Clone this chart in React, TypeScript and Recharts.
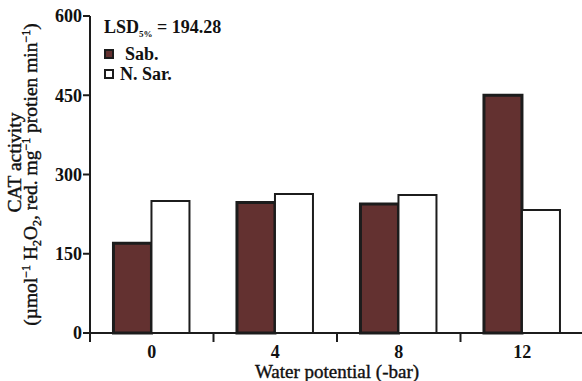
import React from 'react';
import { BarChart, Bar, XAxis, YAxis, Legend } from 'recharts';

const categories = ['0', '4', '8', '12'];
const sabValues = [170, 247, 244, 450];
const nSarValues = [250, 263, 261, 233];
const yTicks = [0, 150, 300, 450, 600];
const seriesNames = ['Sab.', 'N. Sar.'];
const lsdValue = '194.28';

const data = categories.map((c, i) => ({ potential: c, sab: sabValues[i], nsar: nSarValues[i] }));

const FONT = '"Liberation Serif", "Times New Roman", serif';
const INK = '#1c1c1c';
const MAROON = '#633130';

// category boundary ticks + centred labels
const XTick = (props: any) => {
  const { x, y, payload, index, visibleTicksCount } = props;
  const half = payload?.offset ?? 0;
  const top = y - 12;
  return (
    <g>
      <line x1={x - half} x2={x - half} y1={top} y2={top + 9} stroke={INK} strokeWidth={2} />
      {index === visibleTicksCount - 1 && (
        <line x1={x + half} x2={x + half} y1={top} y2={top + 9} stroke={INK} strokeWidth={2} />
      )}
      <text x={x} y={y} dy="0.71em" textAnchor="middle" fill="#111" fontFamily={FONT} fontWeight="bold" fontSize={18}>
        {payload.value}
      </text>
    </g>
  );
};

const YTitle = (props: any) => {
  const { viewBox } = props;
  const cy = viewBox.y + viewBox.height / 2;
  const sup = { fontSize: 12 };
  return (
    <g fontFamily={FONT} fontSize={19.5} fill="#111" stroke="#111" strokeWidth={0.4}>
      <text x={21} y={cy - 12} transform={`rotate(-90 21 ${cy - 12})`} textAnchor="middle">
        CAT activity
      </text>
      <text x={37} y={cy} transform={`rotate(-90 37 ${cy})`} textAnchor="middle">
        (µmol<tspan dy={-7} {...sup}>−1</tspan>
        <tspan dy={7}> H</tspan>
        <tspan dy={4} {...sup}>2</tspan>
        <tspan dy={-4}>O</tspan>
        <tspan dy={4} {...sup}>2</tspan>
        <tspan dy={-4}>, red. mg</tspan>
        <tspan dy={-7} {...sup}>−1</tspan>
        <tspan dy={7}> protien min</tspan>
        <tspan dy={-7} {...sup}>−1</tspan>
        <tspan dy={7}>)</tspan>
      </text>
    </g>
  );
};

const rowStyle: React.CSSProperties = {
  position: 'absolute',
  left: 0,
  height: 20,
  lineHeight: '20px',
  whiteSpace: 'nowrap',
  display: 'flex',
  alignItems: 'center',
};

const LegendBox = (props: any) => {
  const { payload = [] } = props;
  const items = [...payload].sort((a: any, b: any) => seriesNames.indexOf(a.value) - seriesNames.indexOf(b.value));
  return (
    <div style={{ position: 'relative', width: 160, height: 90, fontFamily: FONT, fontWeight: 'bold', fontSize: 18, color: '#111' }}>
      <div style={{ ...rowStyle, top: 13, display: 'block' }}>
        LSD<span style={{ fontSize: 9, position: 'relative', top: 4, lineHeight: 0 }}>5%</span> = {lsdValue}
      </div>
      {items.map((entry: any, i: number) => (
        <div key={entry.value} style={{ ...rowStyle, top: 40 + i * 20 }}>
          <span
            style={{
              display: 'inline-block',
              width: 6,
              height: 6,
              background: entry.color,
              border: `2px solid ${INK}`,
              marginRight: entry.value === 'Sab.' ? 11 : 6,
            }}
          />
          {entry.value}
        </div>
      ))}
    </div>
  );
};

export default function App() {
  return (
    <div style={{ position: 'absolute', left: 0, top: 0, width: 582, height: 381, overflow: 'hidden', background: '#fff' }}>
      <BarChart
        width={584}
        height={381}
        data={data}
        margin={{ top: 16, right: 0, left: 0, bottom: 0 }}
        barCategoryGap="19%"
        barGap={0}
      >
        <XAxis
          dataKey="potential"
          height={48}
          tickLine={false}
          tickSize={0}
          tickMargin={12}
          axisLine={{ stroke: INK, strokeWidth: 2 }}
          tick={<XTick />}
          interval={0}
          label={{
            value: 'Water potential (-bar)',
            position: 'insideBottom',
            offset: 3,
            dx: 0,
            style: { fontFamily: FONT, fontSize: 19, fill: '#111', stroke: '#111', strokeWidth: 0.4 },
          }}
        />
        <YAxis
          width={90}
          domain={[0, 600]}
          ticks={yTicks}
          interval={0}
          tickSize={7}
          tickMargin={1}
          axisLine={{ stroke: INK, strokeWidth: 2 }}
          tickLine={{ stroke: INK, strokeWidth: 2 }}
          tick={{ fontFamily: FONT, fontWeight: 'bold', fontSize: 18, fill: '#111' }}
          label={<YTitle />}
        />
        <Legend
          layout="vertical"
          align="center"
          verticalAlign="middle"
          content={<LegendBox />}
          wrapperStyle={{ position: 'absolute', left: 104, top: 4, width: 'auto' }}
        />
        <Bar dataKey="sab" name="Sab." fill={MAROON} stroke={INK} strokeWidth={3} isAnimationActive={false} />
        <Bar dataKey="nsar" name="N. Sar." fill="#ffffff" stroke={INK} strokeWidth={2} isAnimationActive={false} />
      </BarChart>
    </div>
  );
}
